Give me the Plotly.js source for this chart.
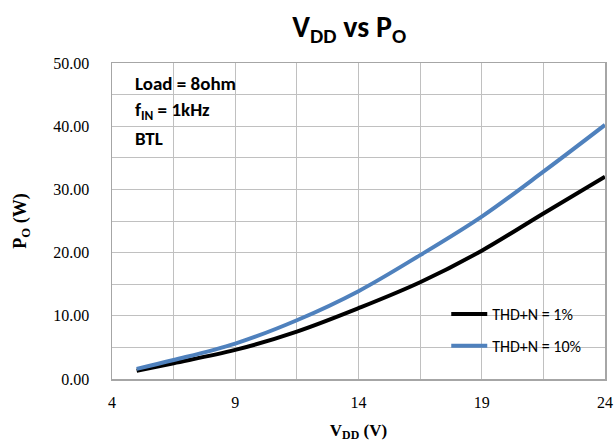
<!DOCTYPE html>
<html>
<head>
<meta charset="utf-8">
<script src="https://cdn.plot.ly/plotly-3.0.1.min.js"></script>
<style>html,body{margin:0;padding:0;background:#fff;}#chart{width:616px;height:443px;}</style>
</head>
<body>
<div id="chart"></div>
<script>
var vdd = [5, 6.5, 9, 11.5, 14, 16.5, 19, 21.5, 24];
var po_thd1 = [1.3, 2.5, 4.6, 7.5, 11.2, 15.3, 20.3, 26.2, 32.0];
var po_thd10 = [1.6, 3.0, 5.6, 9.3, 13.9, 19.6, 25.7, 32.8, 40.2];
var seriesNames = ['THD+N = 1%', 'THD+N = 10%'];
var xTicks = [4, 9, 14, 19, 24];
var yTicks = [0, 10, 20, 30, 40, 50];
var notes = ['Load = 8ohm', 'f<sub>IN</sub> = 1kHz', 'BTL'];

var calibri = 'Carlito, "Open Sans", "Noto Sans", sans-serif';
var serif = '"Liberation Serif", "DejaVu Serif", serif';

var traces = [
  {x: vdd, y: po_thd1, name: seriesNames[0], mode: 'lines', legendgroup: 'a',
   line: {color: '#000000', width: 4, shape: 'spline', smoothing: 1}},
  {x: vdd, y: po_thd10, name: seriesNames[1], mode: 'lines', legendgroup: 'b',
   line: {color: '#4f81bd', width: 4, shape: 'spline', smoothing: 1}}
];

var annotations = notes.map(function(t, i) {
  return {text: '<b>' + t + '</b>', xref: 'paper', yref: 'paper', x: 0.043, y: 0.935 - i * 0.087,
          xanchor: 'left', yanchor: 'middle', showarrow: false,
          font: {family: calibri, size: 19, color: '#000'}};
});

var layout = {
  width: 616, height: 443,
  margin: {l: 112, r: 11, t: 63, b: 64},
  paper_bgcolor: '#fff', plot_bgcolor: '#fff',
  title: {text: '<b>V<sub>DD</sub> vs P<sub>O</sub></b>', x: 0.567, xanchor: 'center', y: 0.94, yanchor: 'middle',
          font: {family: calibri, size: 30, color: '#000'}},
  xaxis: {
    range: [4, 24], tickvals: xTicks, ticktext: xTicks.map(String),
    showgrid: true, gridcolor: '#c0c0c0', gridwidth: 1,
    minor: {dtick: 2.5, tick0: 4, showgrid: true, gridcolor: '#c0c0c0', gridwidth: 1},
    showline: true, linecolor: '#a6a6a6', linewidth: 1.5, mirror: true,
    zeroline: false, ticks: '', ticklabelstandoff: 8,
    tickfont: {family: serif, size: 16, color: '#000'},
    title: {text: '<b>V<sub>DD</sub> (V)</b>', standoff: 14, font: {family: serif, size: 17, color: '#000'}}
  },
  yaxis: {
    range: [0, 50], tickvals: yTicks, ticktext: yTicks.map(function(v){return v.toFixed(2);}),
    showgrid: true, gridcolor: '#c0c0c0', gridwidth: 1,
    minor: {dtick: 5, tick0: 0, showgrid: true, gridcolor: '#c0c0c0', gridwidth: 1},
    showline: true, linecolor: '#a6a6a6', linewidth: 1.5, mirror: true,
    zeroline: false, ticks: '', ticklabelstandoff: 18,
    tickfont: {family: serif, size: 16, color: '#000'},
    title: {text: '<b>P<sub>O</sub> (W)</b>', standoff: 22, font: {family: serif, size: 18, color: '#000'}}
  },
  showlegend: true,
  legend: {x: 0.678, y: 0.155, xanchor: 'left', yanchor: 'middle', bgcolor: 'rgba(0,0,0,0)',
           traceorder: 'grouped', tracegroupgap: 8, itemwidth: 36,
           font: {family: calibri, size: 16, color: '#000'}},
  annotations: annotations
};

Plotly.newPlot('chart', traces, layout, {displayModeBar: false, staticPlot: true});
</script>
</body>
</html>
